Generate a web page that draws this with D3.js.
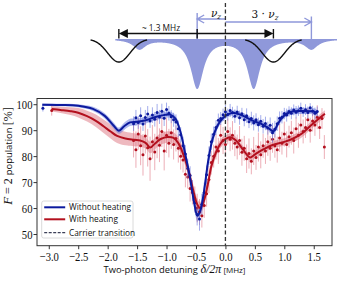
<!DOCTYPE html>
<html>
<head>
<meta charset="utf-8">
<script src="https://cdn.jsdelivr.net/npm/d3@7"></script>
<style>
  body { margin: 0; background: #fff; }
  svg { display: block; }
</style>
</head>
<body>
<div id="chart"></div>
<script>
// detuning grid of the measured points [MHz]
var detuning = [-1.56,-1.52,-1.48,-1.44,-1.40,-1.36,-1.32,-1.28,-1.24,-1.20,
  -1.16,-1.12,-1.08,-1.04,-1.00,-0.96,-0.92,-0.88,-0.84,-0.80,
  -0.76,-0.72,-0.68,-0.64,-0.60,-0.56,-0.52,-0.48,-0.44,-0.40,
  -0.36,-0.32,-0.28,-0.24,-0.20,-0.16,-0.12,-0.08,-0.04,0.00,
  0.04,0.08,0.12,0.16,0.20,0.24,0.28,0.32,0.36,0.40,
  0.44,0.48,0.52,0.56,0.60,0.64,0.68,0.72,0.76,0.80,
  0.84,0.88,0.92,0.96,1.00,1.04,1.08,1.12,1.16,1.20,
  1.24,1.28,1.32,1.36,1.40,1.44,1.48,1.52,1.56,1.60,
  1.64,1.68];

// without heating (blue), stops at 1.56
var blueY = [92.5,94.8,93.0,95.6,92.4,94.9,96.2,93.5,95.8,94.2,
  96.8,95.1,97.3,94.6,98.0,96.5,95.2,94.0,93.1,90.5,
  88.2,84.0,80.8,75.2,72.5,66.8,62.0,57.5,55.8,61.5,
  66.0,72.8,80.2,85.5,88.4,91.0,93.8,94.5,95.9,97.1,
  96.0,97.6,96.8,95.4,97.0,94.8,96.3,94.0,95.6,93.2,
  94.5,92.8,94.0,92.1,93.4,91.5,92.6,90.8,91.9,89.0,
  90.4,92.5,94.6,95.0,96.4,95.8,97.2,96.5,97.8,96.9,
  97.5,98.4,97.0,97.9,96.8,98.6,97.4,96.5,97.2];
var blueErr = [2.8,3.0,2.5,3.2,2.7,2.9,3.1,2.6,3.0,2.8,
  3.3,2.7,2.9,3.0,2.6,2.8,2.5,2.7,3.0,3.2,
  3.0,3.5,3.4,3.8,3.6,4.0,3.8,4.2,4.5,4.0,
  3.8,3.6,3.5,3.2,3.0,2.8,2.6,2.5,2.4,2.6,
  2.3,2.5,2.2,2.6,2.4,2.7,2.3,2.5,2.8,2.4,
  2.6,2.9,2.5,2.7,2.4,2.8,2.6,2.5,3.0,3.8,
  3.2,2.8,2.6,2.4,2.2,2.5,2.0,2.3,2.1,2.4,
  2.0,2.2,1.9,2.1,2.3,1.8,2.0,2.2,1.9];

// with heating (red)
var redY = [86.0,82.5,88.5,84.0,80.5,87.8,83.2,79.0,85.5,81.6,
  87.0,84.2,89.5,82.0,88.0,85.0,89.0,84.5,86.8,83.0,
  80.0,78.5,73.0,72.0,67.5,66.0,63.5,60.0,58.5,57.0,
  61.0,65.5,71.0,77.5,80.0,83.5,82.0,88.0,86.0,84.5,
  89.5,86.5,88.0,85.0,83.5,86.0,81.5,83.0,79.0,81.0,
  78.0,82.0,79.5,83.5,80.5,84.0,82.0,85.5,83.0,86.5,
  84.0,82.5,87.0,85.0,88.5,84.5,87.5,89.0,86.0,90.5,
  88.0,92.0,89.5,91.0,94.0,90.0,93.5,92.0,95.0,91.0,
  94.5,83.5];
var redErr = [6.5,7.0,6.0,7.5,8.0,6.8,7.2,8.5,6.5,7.0,
  7.8,6.5,6.0,7.5,6.8,5.5,6.2,5.8,5.0,5.5,
  5.2,4.8,5.0,4.5,5.0,4.6,4.8,5.5,5.0,4.5,
  4.8,5.0,5.2,4.6,4.4,4.8,5.0,4.5,5.2,4.8,
  5.0,4.6,5.5,5.0,4.8,5.6,5.2,4.8,5.5,5.8,
  5.0,5.4,4.8,5.6,5.2,4.6,5.0,5.4,4.8,5.2,
  4.6,5.0,5.4,4.4,4.8,5.0,4.2,4.6,5.0,4.4,
  4.8,4.2,4.6,4.0,4.4,4.8,4.0,4.2,4.6,4.4,
  4.0,4.6];

// lone far-detuned points
var farX = [-3.1, -2.95];
var farY = [98.4, 97.6];
var farErr = [1.2, 2.0];

// fit curves with confidence band half-widths
var blueFitX = [-3.11,-2.8,-2.5,-2.25,-2.05,-1.9,-1.81,-1.72,-1.62,-1.5,-1.35,-1.2,-1.05,-0.94,-0.85,-0.76,-0.68,-0.6,-0.53,-0.475,-0.42,-0.36,-0.29,-0.22,-0.14,-0.05,0.05,0.15,0.3,0.47,0.6,0.72,0.815,0.9,0.98,1.1,1.3,1.5,1.56];
var blueFitY = [99.8,99.7,99.4,98.2,95.5,91.8,89.8,91.5,93.0,93.2,93.8,95.0,95.8,96.0,94.5,89.0,80.5,71.5,62.0,57.0,59.5,67.0,78.5,86.5,91.5,94.5,96.2,96.6,95.5,93.6,92.5,91.0,89.6,92.8,95.3,97.0,97.4,97.2,96.5];
var blueFitBand = [0.5,0.5,0.6,0.8,1.0,1.2,1.2,1.4,1.4,1.3,1.2,1.2,1.2,1.2,1.2,1.4,1.7,2.0,2.2,2.2,2.2,2.2,2.0,1.7,1.4,1.2,1.0,1.0,1.0,1.0,1.0,1.1,1.2,1.2,1.2,1.2,1.2,1.2,1.2];

var redFitX = [-2.95,-2.8,-2.63,-2.5,-2.35,-2.2,-2.07,-1.95,-1.84,-1.7,-1.55,-1.45,-1.35,-1.28,-1.2,-1.1,-0.98,-0.88,-0.8,-0.72,-0.64,-0.56,-0.48,-0.43,-0.37,-0.3,-0.24,-0.16,-0.06,0.02,0.08,0.18,0.3,0.42,0.52,0.65,0.8,1.0,1.15,1.3,1.45,1.58,1.69];
var redFitY = [98.2,97.8,97.3,96.7,95.4,93.6,91.5,89.5,87.8,86.8,86.3,86.0,85.0,83.3,84.8,86.6,87.4,87.0,85.0,81.0,75.5,68.0,61.5,60.0,62.5,69.0,76.0,81.5,85.5,86.8,87.3,86.0,82.5,79.5,81.0,82.7,84.3,85.5,86.8,88.7,91.8,94.3,96.3];
var redFitBand = [1.0,1.2,1.5,1.8,2.1,2.4,2.6,2.7,2.7,2.6,2.5,2.3,2.2,2.2,2.2,2.2,2.2,2.2,2.2,2.3,2.3,2.3,2.3,2.3,2.3,2.3,2.1,1.9,1.6,1.4,1.4,1.4,1.4,1.4,1.4,1.4,1.4,1.4,1.4,1.4,1.4,1.4,1.4];

// schematic: resonance positions [MHz], relative depths
var peakPos = [-1.46, -0.48, 0.48, 1.46];
var peakDepth = [0.2, 1, 1, 0.2];
var peakWidth = 0.13;
var sidebandPos = [-1.81, 0.815];
var sidebandDepth = 0.47;
var sidebandSigma = 0.19;

var xTicks = [-3.0,-2.5,-2.0,-1.5,-1.0,-0.5,0.0,0.5,1.0,1.5];
var yTicks = [50,60,70,80,90,100];
var legendLabels = ["Without heating", "With heating", "Carrier transition"];

var svgWidth = 344, svgHeight = 283;
var margin = {top: 98.5, right: 12, bottom: 37.3, left: 37};
var width = svgWidth - margin.left - margin.right;
var height = svgHeight - margin.top - margin.bottom;

var c = {
  blueLine: "#0c1a9e", blueBand: "#6f7fe0", blueErr: "#6878e0",
  redLine: "#b3101e", redBand: "#e07f8b", redErr: "#e27a88",
  scheme: "#8f98da", axis: "#333"
};

var svg = d3.select("#chart").append("svg")
  .attr("width", svgWidth).attr("height", svgHeight);

var x = d3.scaleLinear().domain([-3.2, 1.81]).range([margin.left, margin.left + width]);
var y = d3.scaleLinear().domain([45.5, 102.2]).range([margin.top + height, margin.top]);

// ---------- schematic on top ----------
var base = 39;
var ys = d3.scaleLinear().domain([0, 1]).range([base, 88]);

function lorentz(v) {
  var s = 0;
  peakPos.forEach(function(p, i) {
    s += peakDepth[i] * peakWidth * peakWidth / ((v - p) * (v - p) + peakWidth * peakWidth);
  });
  return s;
}
var fillXs = d3.range(-1.87, 1.9, 0.005);
svg.append("path")
  .attr("d", d3.area().x(function(v) { return x(v); }).y0(base)
    .y1(function(v) { return ys(lorentz(v)); })(fillXs))
  .attr("fill", c.scheme);

sidebandPos.forEach(function(p) {
  var xs = d3.range(p - 0.48, p + 0.481, 0.005);
  svg.append("path")
    .attr("d", d3.line().x(function(v) { return x(v); })
      .y(function(v) { return ys(sidebandDepth * Math.exp(-(v - p) * (v - p) / (2 * sidebandSigma * sidebandSigma))); })(xs))
    .attr("fill", "none").attr("stroke", "#111").attr("stroke-width", 1.4);
});

// blue guide lines and arrows
var nuX = x(peakPos[1]), nu3X = x(peakPos[3]), x0 = x(0);
svg.append("line").attr("x1", nuX).attr("x2", nuX).attr("y1", 13).attr("y2", base)
  .attr("stroke", c.scheme).attr("stroke-width", 1.4);
svg.append("line").attr("x1", nu3X).attr("x2", nu3X).attr("y1", 16.5).attr("y2", base)
  .attr("stroke", c.scheme).attr("stroke-width", 1.4);
svg.append("path").attr("d", "M" + x0 + ",19H" + nuX + "M" + (nuX + 7) + ",15L" + nuX + ",19L" + (nuX + 7) + ",23")
  .attr("fill", "none").attr("stroke", c.scheme).attr("stroke-width", 1.4);
svg.append("path").attr("d", "M" + x0 + ",22H" + nu3X + "M" + (nu3X - 7) + ",18L" + nu3X + ",22L" + (nu3X - 7) + ",26")
  .attr("fill", "none").attr("stroke", c.scheme).attr("stroke-width", 1.4);

// black 1.3 MHz arrow
var sL = x(sidebandPos[0]), sR = x(sidebandPos[1]), ay = 33.5;
svg.append("line").attr("x1", sL + 4).attr("x2", sR - 4).attr("y1", ay).attr("y2", ay)
  .attr("stroke", "#111").attr("stroke-width", 1.5);
svg.append("path").attr("d", "M" + sL + "," + ay + "l9,-4.5v9z").attr("fill", "#111");
svg.append("path").attr("d", "M" + sR + "," + ay + "l-9,-4.5v9z").attr("fill", "#111");
[sL, nuX, sR].forEach(function(px) {
  svg.append("line").attr("x1", px).attr("x2", px).attr("y1", 29).attr("y2", 38.5)
    .attr("stroke", "#111").attr("stroke-width", 1.4);
});

svg.append("text").attr("x", 161).attr("y", 30.5).attr("text-anchor", "middle")
  .style("font-family", "Open Sans").style("font-size", "8.3px").attr("fill", "#111")
  .text("~ 1.3 MHz");
var nuT = svg.append("text").attr("x", 216).attr("y", 16.5).attr("text-anchor", "middle")
  .style("font-family", "DejaVu Serif").style("font-size", "10.5px").attr("fill", "#111");
nuT.append("tspan").style("font-style", "italic").text("ν");
nuT.append("tspan").style("font-style", "italic").style("font-size", "7px").attr("dy", 2).text("z");
var nu3T = svg.append("text").attr("x", 265).attr("y", 17.5).attr("text-anchor", "middle")
  .style("font-family", "DejaVu Serif").style("font-size", "10.5px").attr("fill", "#111");
nu3T.append("tspan").text("3 · ");
nu3T.append("tspan").style("font-style", "italic").text("ν");
nu3T.append("tspan").style("font-style", "italic").style("font-size", "7px").attr("dy", 2).text("z");

// ---------- main plot ----------
var curve = d3.curveCatmullRom.alpha(0.5);

function band(fx, fy, fb) {
  return d3.area().curve(curve)
    .x(function(d, i) { return x(fx[i]); })
    .y0(function(d, i) { return y(fy[i] - fb[i]); })
    .y1(function(d, i) { return y(fy[i] + fb[i]); })(fx);
}
function fitLine(fx, fy) {
  return d3.line().curve(curve)
    .x(function(d, i) { return x(fx[i]); })
    .y(function(d, i) { return y(fy[i]); })(fx);
}

svg.append("path").attr("d", band(redFitX, redFitY, redFitBand))
  .attr("fill", c.redBand).attr("opacity", 0.55);
svg.append("path").attr("d", band(blueFitX, blueFitY, blueFitBand))
  .attr("fill", c.blueBand).attr("opacity", 0.55);

function drawPoints(vals, errs, errColor, ptColor) {
  var g = svg.append("g");
  g.selectAll("line").data(vals).enter().append("line")
    .attr("x1", function(d, i) { return x(detuning[i]); })
    .attr("x2", function(d, i) { return x(detuning[i]); })
    .attr("y1", function(d, i) { return y(d - errs[i]); })
    .attr("y2", function(d, i) { return y(d + errs[i]); })
    .attr("stroke", errColor).attr("stroke-width", 1).attr("opacity", 0.6);
  g.selectAll("circle").data(vals).enter().append("circle")
    .attr("cx", function(d, i) { return x(detuning[i]); })
    .attr("cy", function(d) { return y(d); })
    .attr("r", 1.5).attr("fill", ptColor);
}
drawPoints(redY, redErr, c.redErr, c.redLine);
drawPoints(blueY, blueErr, c.blueErr, c.blueLine);

// far points
farX.forEach(function(v, i) {
  var col = i === 0 ? c.blueLine : c.redLine;
  var ecol = i === 0 ? c.blueErr : c.redErr;
  svg.append("line").attr("x1", x(v)).attr("x2", x(v))
    .attr("y1", y(farY[i] - farErr[i])).attr("y2", y(farY[i] + farErr[i]))
    .attr("stroke", ecol).attr("stroke-width", 1).attr("opacity", 0.65);
  svg.append("circle").attr("cx", x(v)).attr("cy", y(farY[i])).attr("r", 1.5).attr("fill", col);
});

svg.append("path").attr("d", fitLine(redFitX, redFitY))
  .attr("fill", "none").attr("stroke", c.redLine).attr("stroke-width", 2);
svg.append("path").attr("d", fitLine(blueFitX, blueFitY))
  .attr("fill", "none").attr("stroke", c.blueLine).attr("stroke-width", 2);

// carrier line through schematic and plot
svg.append("line").attr("x1", x(0)).attr("x2", x(0)).attr("y1", 3).attr("y2", margin.top + height)
  .attr("stroke", "#333").attr("stroke-width", 1.3).attr("stroke-dasharray", "4,2.5");

// frame
svg.append("rect").attr("x", margin.left).attr("y", margin.top)
  .attr("width", width).attr("height", height)
  .attr("fill", "none").attr("stroke", c.axis).attr("stroke-width", 1);

// axes
var fmt = function(d) { return d3.format(".1f")(d).replace("-", "\u2212"); };
var xAxis = svg.append("g").attr("transform", "translate(0," + (margin.top + height) + ")")
  .call(d3.axisBottom(x).tickValues(xTicks).tickFormat(fmt).tickSize(3.5).tickPadding(2.5));
var yAxis = svg.append("g").attr("transform", "translate(" + margin.left + ",0)")
  .call(d3.axisLeft(y).tickValues(yTicks).tickSize(3.5).tickPadding(1));
[xAxis, yAxis].forEach(function(a) {
  a.select(".domain").remove();
  a.selectAll(".tick line").attr("stroke", c.axis);
  a.selectAll("text").style("font-family", "Liberation Serif").style("font-size", "13px").attr("fill", "#111");
});
xAxis.selectAll("text").attr("transform", "scale(0.82,1)");
yAxis.selectAll("text").attr("transform", "scale(0.82,1)").attr("x", -4.5 / 0.82);

// axis labels
var xl = svg.append("text").attr("x", 174.5).attr("y", 273.3).attr("text-anchor", "middle").attr("fill", "#111");
xl.append("tspan").style("font-family", "Open Sans").style("font-size", "9.4px").text("Two-photon detuning ");
xl.append("tspan").style("font-family", "Liberation Serif").style("font-style", "italic").style("font-size", "12px").text("δ/2π");
xl.append("tspan").style("font-family", "Open Sans").style("font-size", "8px").text(" [MHz]");

var yl = svg.append("text").attr("transform", "translate(12,156) rotate(-90)")
  .attr("text-anchor", "middle").attr("fill", "#111");
yl.append("tspan").style("font-family", "Liberation Serif").style("font-style", "italic").style("font-size", "13px").text("F");
yl.append("tspan").style("font-family", "Liberation Serif").style("font-size", "12px").text(" = 2  ");
yl.append("tspan").style("font-family", "Open Sans").style("font-size", "9.4px").text("population ");
yl.append("tspan").style("font-family", "Liberation Serif").style("font-size", "12px").text("[%]");

// legend
var lg = svg.append("g").attr("transform", "translate(41.7,201)");
lg.append("rect").attr("width", 91.3).attr("height", 37).attr("rx", 2)
  .attr("fill", "#fff").attr("fill-opacity", 0.85).attr("stroke", "#d0d0d0").attr("stroke-width", 0.8);
var lgColors = [c.blueLine, c.redLine, "#3c4058"];
legendLabels.forEach(function(t, i) {
  var yy = [6.3, 18.3, 31.7][i];
  lg.append("line").attr("x1", 2.5).attr("x2", 23.5).attr("y1", yy).attr("y2", yy)
    .attr("stroke", lgColors[i]).attr("stroke-width", i === 2 ? 1.2 : 2)
    .attr("stroke-dasharray", i === 2 ? "3,1.5" : null);
  lg.append("text").attr("x", 27.3).attr("y", yy + 3).style("font-family", "Open Sans")
    .style("font-size", "8.3px").attr("fill", "#111").text(t);
});
</script>
</body>
</html>
